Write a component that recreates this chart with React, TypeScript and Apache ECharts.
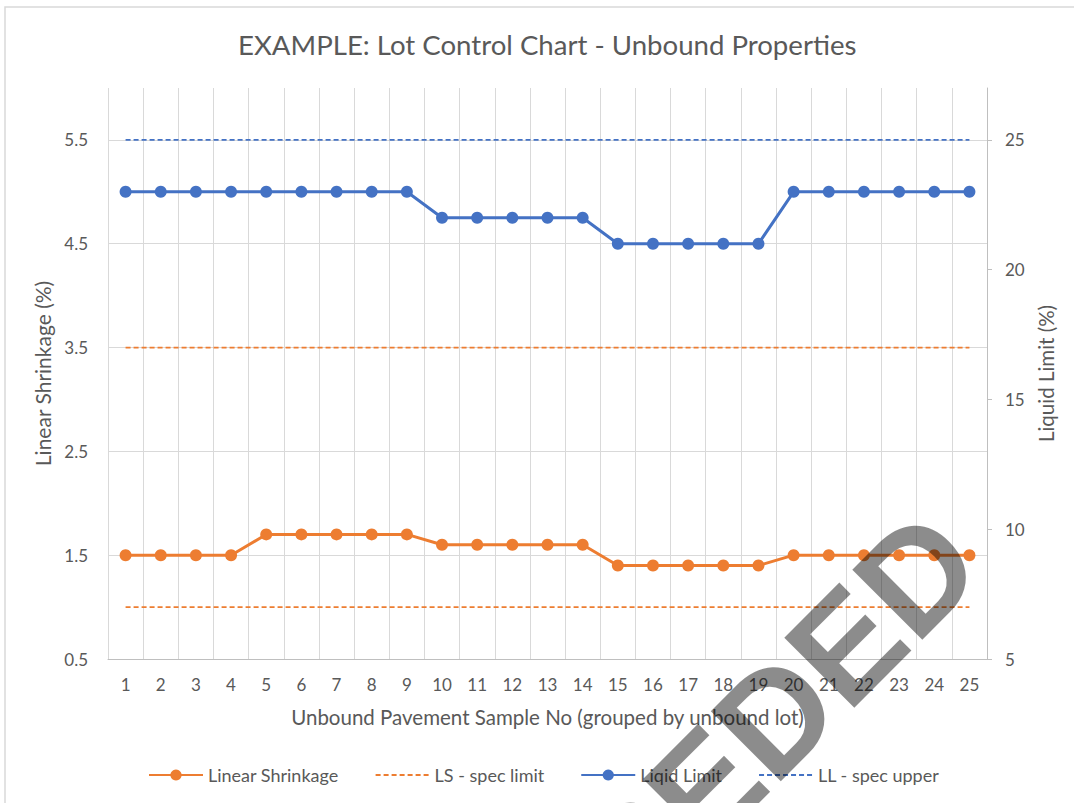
import React, { useEffect, useRef } from "react";
import * as echarts from "echarts";

const samples = ["1","2","3","4","5","6","7","8","9","10","11","12","13","14","15","16","17","18","19","20","21","22","23","24","25"];
const linearShrinkage = [1.5,1.5,1.5,1.5,1.7,1.7,1.7,1.7,1.7,1.6,1.6,1.6,1.6,1.6,1.4,1.4,1.4,1.4,1.4,1.5,1.5,1.5,1.5,1.5,1.5];
const lsSpecUpper = samples.map(() => 3.5);
const lsSpecLower = samples.map(() => 1.0);
const liquidLimit = [23,23,23,23,23,23,23,23,23,22,22,22,22,22,21,21,21,21,21,23,23,23,23,23,23];
const llSpecUpper = samples.map(() => 25);

const ORANGE = "#ED7D31";
const BLUE = "#4472C4";
const TXT = "#595959";
const FONT = "Lato";

export default function App() {
  const ref = useRef<HTMLDivElement>(null);
  useEffect(() => {
    if (!ref.current) return;
    const chart = echarts.init(ref.current, null, { renderer: "svg" });
    const grid = "#d9d9d9";
    chart.setOption({
      animation: false,
      backgroundColor: "#fff",
      textStyle: { fontFamily: FONT },
      title: {
        text: "EXAMPLE: Lot Control Chart - Unbound Properties",
        left: 233,
        top: 25,
        textStyle: { fontFamily: FONT, fontSize: 27.6, fontWeight: "normal", color: TXT },
      },
      grid: { left: 108, right: 87, top: 88, bottom: 144 },
      legend: {
        top: 761,
        left: 143,
        itemWidth: 54,
        itemHeight: 14,
        itemGap: 36,
        textStyle: { fontFamily: FONT, fontSize: 18, color: TXT },
        data: [
          { name: "Linear Shrinkage" },
          { name: "LS - spec limit", itemStyle: { opacity: 0 } },
          { name: "Liqid Limit" },
          { name: "LL - spec upper", itemStyle: { opacity: 0 } },
        ],
      },
      xAxis: {
        type: "category",
        data: samples,
        boundaryGap: true,
        name: "Unbound Pavement Sample No (grouped by unbound lot)",
        nameLocation: "middle",
        nameGap: 47,
        nameTextStyle: { fontFamily: FONT, fontSize: 20.5, color: TXT },
        axisLine: { lineStyle: { color: "#bfbfbf", width: 1 } },
        axisTick: { show: false },
        axisLabel: { color: TXT, fontSize: 17, fontFamily: FONT, margin: 17, interval: 0 },
        splitLine: { show: true, lineStyle: { color: grid, width: 1 } },
      },
      yAxis: [
        {
          type: "value",
          min: 0.5,
          max: 6,
          interval: 1,
          name: "Linear Shrinkage (%)",
          nameLocation: "middle",
          nameGap: 46,
          nameTextStyle: { fontFamily: FONT, fontSize: 21, color: TXT },
          axisLine: { show: false },
          axisTick: { show: false },
          axisLabel: { color: TXT, fontSize: 17, fontFamily: FONT, margin: 20, showMaxLabel: false,
            formatter: (v: number) => v.toFixed(1) },
          splitLine: {
            show: true,
            lineStyle: { color: [grid, grid, grid, grid, grid, grid, "rgba(0,0,0,0)"], width: 1 },
          },
        },
        {
          type: "value",
          min: 5,
          max: 27,
          interval: 5,
          name: "Liquid Limit (%)",
          nameLocation: "middle",
          nameGap: 47,
          nameRotate: 90,
          nameTextStyle: { fontFamily: FONT, fontSize: 20.5, color: TXT },
          axisLine: { show: true, lineStyle: { color: "#bfbfbf", width: 1 } },
          axisTick: { show: true, length: 5, lineStyle: { color: "#bfbfbf" } },
          axisLabel: { color: TXT, fontSize: 17, fontFamily: FONT, margin: 18, showMaxLabel: false },
          splitLine: { show: false },
        },
      ],
      series: [
        {
          name: "Linear Shrinkage",
          type: "line",
          yAxisIndex: 0,
          data: linearShrinkage,
          symbol: "circle",
          symbolSize: 12,
          lineStyle: { color: ORANGE, width: 3 },
          itemStyle: { color: ORANGE },
          z: 5,
        },
        {
          name: "LS - spec limit",
          type: "line",
          yAxisIndex: 0,
          data: lsSpecUpper,
          showSymbol: false,
          symbol: "none",
          lineStyle: { color: ORANGE, width: 1.75, type: [5, 3] },
          itemStyle: { color: ORANGE },
        },
        {
          name: "LS - spec limit",
          type: "line",
          yAxisIndex: 0,
          data: lsSpecLower,
          showSymbol: false,
          symbol: "none",
          lineStyle: { color: ORANGE, width: 1.75, type: [5, 3] },
          itemStyle: { color: ORANGE },
        },
        {
          name: "Liqid Limit",
          type: "line",
          yAxisIndex: 1,
          data: liquidLimit,
          symbol: "circle",
          symbolSize: 12,
          lineStyle: { color: BLUE, width: 3 },
          itemStyle: { color: BLUE },
          z: 5,
        },
        {
          name: "LL - spec upper",
          type: "line",
          yAxisIndex: 1,
          data: llSpecUpper,
          showSymbol: false,
          symbol: "none",
          lineStyle: { color: BLUE, width: 1.75, type: [5, 3] },
          itemStyle: { color: BLUE },
        },
      ],
      graphic: [
        {
          type: "rect",
          z: -10,
          silent: true,
          shape: { x: 5, y: 7, width: 1090, height: 820 },
          style: { fill: "none", stroke: "#d9d9d9", lineWidth: 1.5 },
        },
        {
          type: "text",
          z: 100,
          silent: true,
          x: 954,
          y: 538,
          rotation: Math.PI / 4,
          style: {
            text: "SUPERSEDED",
            font: "bold 144px 'Liberation Sans'",
            fill: "rgba(0,0,0,0.45)",
            align: "right",
            verticalAlign: "middle",
          },
        },
      ],
    });
    return () => chart.dispose();
  }, []);
  return <div ref={ref} style={{ position: "fixed", left: 0, top: 0, width: 1074, height: 803 }} />;
}
